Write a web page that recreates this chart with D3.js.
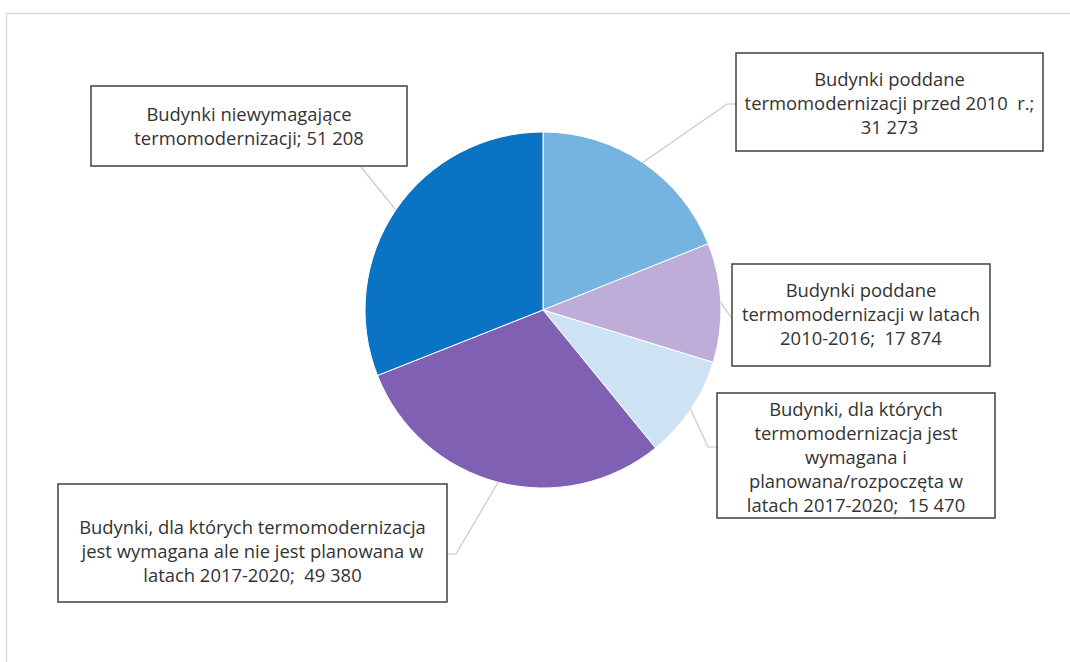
<!DOCTYPE html>
<html lang="pl">
<head>
<meta charset="utf-8">
<script src="https://cdn.jsdelivr.net/npm/d3@7"></script>
<style>
  html, body { margin: 0; padding: 0; background: #fff; }
  svg { display: block; font-family: "Open Sans", "Noto Sans", sans-serif; }
  .frame { fill: none; stroke: #d9d9d9; stroke-width: 1.5; }
  .slice { stroke: #fff; stroke-width: 1; }
  .leader { fill: none; stroke: #c8c8c8; stroke-width: 1.2; }
  .label-box { fill: #fff; stroke: #404040; stroke-width: 1.5; }
  .label-text { fill: #333; font-size: 18.4px; text-anchor: middle; }
</style>
</head>
<body>
<svg id="chart" width="1070" height="662"></svg>
<script>
// ── Data ──────────────────────────────────────────────────────────────────────

const categories = [
  'Budynki poddane termomodernizacji przed 2010 r.',
  'Budynki poddane termomodernizacji w latach 2010-2016',
  'Budynki, dla których termomodernizacja jest wymagana i planowana/rozpoczęta w latach 2017-2020',
  'Budynki, dla których termomodernizacja jest wymagana ale nie jest planowana w latach 2017-2020',
  'Budynki niewymagające termomodernizacji'
];
const values = [31273, 17874, 15470, 49380, 51208];

// Label text as wrapped in the original ({v} is replaced by the value)
const labelLines = [
  ['Budynki poddane', 'termomodernizacji przed 2010  r.;', '{v}'],
  ['Budynki poddane', 'termomodernizacji w latach', '2010-2016;  {v}'],
  ['Budynki, dla których', 'termomodernizacja jest', 'wymagana i', 'planowana/rozpoczęta w', 'latach 2017-2020;  {v}'],
  ['Budynki, dla których termomodernizacja', 'jest wymagana ale nie jest planowana w', 'latach 2017-2020;  {v}'],
  ['Budynki niewymagające', 'termomodernizacji; {v}']
];

const colors = ['#75b3e0', '#bdadd8', '#cde3f4', '#7f60b3', '#0a73c3'];

// ── Layout ────────────────────────────────────────────────────────────────────

const W = 1070, H = 662;
const cx = 543, cy = 310, R = 178;
const LINE_H = 24;

// box: [x, y, w, h], first: centre of first text line, elbow: leader bend point
const labelLayout = [
  { box: [736, 53, 307, 98],   first: 80,  elbow: [727, 104], end: [736, 104] },
  { box: [732, 264, 258, 102], first: 291, elbow: null,       end: [732, 319] },
  { box: [717, 393, 278, 125], first: 410, elbow: [708, 447], end: [717, 447] },
  { box: [58, 484, 389, 118],  first: 528, elbow: [456, 554], end: [447, 554] },
  { box: [91, 86, 316, 80],    first: 115, elbow: null,       end: [361, 167] }
];

// ── Drawing ───────────────────────────────────────────────────────────────────

const fmt = v => d3.format(',')(v).replace(/,/g, ' ');

const svg = d3.select('#chart');

svg.append('rect')
  .attr('class', 'frame')
  .attr('x', 6.5).attr('y', 13.5)
  .attr('width', W).attr('height', H);

const pie = d3.pie().sort(null).value(d => d)(values);
const arc = d3.arc().innerRadius(0).outerRadius(R);
const edge = d3.arc().innerRadius(R).outerRadius(R);

const gPie = svg.append('g').attr('transform', `translate(${cx},${cy})`);

gPie.selectAll('path.slice')
  .data(pie)
  .join('path')
  .attr('class', 'slice')
  .attr('fill', (d, i) => colors[i])
  .attr('d', arc);

// Leader lines — from the slice's outer mid-point to its label box
svg.selectAll('path.leader')
  .data(pie)
  .join('path')
  .attr('class', 'leader')
  .attr('d', (d, i) => {
    const [ex, ey] = edge.centroid(d);
    const L = labelLayout[i];
    const pts = [[cx + ex, cy + ey]];
    if (L.elbow) pts.push(L.elbow);
    pts.push(L.end);
    return d3.line()(pts);
  });

// Label boxes
const labels = svg.selectAll('g.label')
  .data(values)
  .join('g')
  .attr('class', 'label');

labels.append('rect')
  .attr('class', 'label-box')
  .attr('x', (d, i) => labelLayout[i].box[0])
  .attr('y', (d, i) => labelLayout[i].box[1])
  .attr('width', (d, i) => labelLayout[i].box[2])
  .attr('height', (d, i) => labelLayout[i].box[3]);

labels.append('text')
  .attr('class', 'label-text')
  .attr('aria-label', (d, i) => categories[i])
  .each(function(d, i) {
    const L = labelLayout[i];
    const xMid = L.box[0] + L.box[2] / 2;
    d3.select(this).selectAll('tspan')
      .data(labelLines[i].map(s => s.replace('{v}', fmt(d))))
      .join('tspan')
      .attr('x', xMid)
      .attr('y', (s, j) => L.first + j * LINE_H)
      .attr('dy', '0.35em')
      .style('white-space', 'pre')
      .text(s => s);
  });
</script>
</body>
</html>
